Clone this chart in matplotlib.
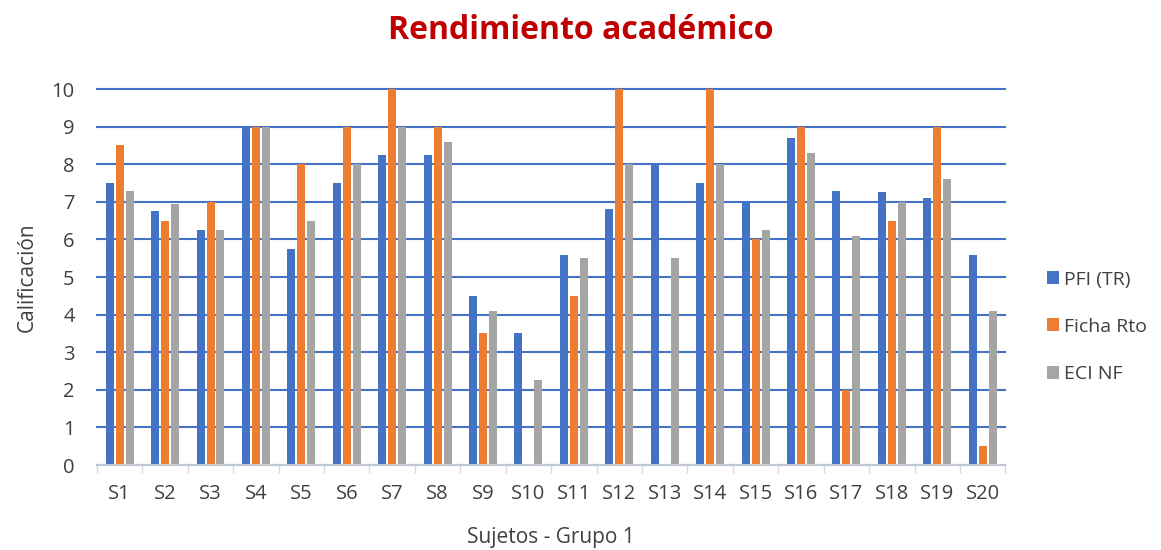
import numpy as np
import matplotlib
matplotlib.use("Agg")
import matplotlib.pyplot as plt

plt.rcParams['font.family'] = ['Open Sans', 'DejaVu Sans']

# data
subjects = ["S%d" % i for i in range(1, 21)]
pfi_tr = [7.5, 6.75, 6.25, 9, 5.75, 7.5, 8.25, 8.25, 4.5, 3.5,
          5.6, 6.8, 8, 7.5, 7, 8.7, 7.3, 7.25, 7.1, 5.6]
ficha_rto = [8.5, 6.5, 7, 9, 8, 9, 10, 9, 3.5, 0,
             4.5, 10, 0, 10, 6, 9, 2, 6.5, 9, 0.5]
eci_nf = [7.3, 6.95, 6.25, 9, 6.5, 8, 9, 8.6, 4.1, 2.25,
          5.5, 8, 5.5, 8, 6.25, 8.3, 6.1, 7, 7.6, 4.1]

series = [("PFI (TR)", pfi_tr, "#4472C4"),
          ("Ficha Rto", ficha_rto, "#ED7D31"),
          ("ECI NF", eci_nf, "#A5A5A5")]

fig = plt.figure(figsize=(11.61, 5.5), dpi=100)
ax = fig.add_axes([0.0835, 0.1545, 0.7825, 0.6835])

x = np.arange(len(subjects))
w = 0.176
step = 0.22
for k, (name, vals, col) in enumerate(series):
    ax.bar(x + (k - 1) * step, vals, width=w, color=col, label=name, zorder=3)

ax.set_xlim(-0.5, len(subjects) - 0.5)
ax.set_ylim(0, 10)
ax.set_yticks(range(0, 11))
ax.yaxis.grid(True, color="#4472C4", linewidth=1.5, zorder=1)
for gl in ax.get_ygridlines():
    gl.set_clip_on(False)
ax.set_axisbelow(True)

ax.set_xticks(x)
ax.set_xticklabels(subjects)
ax.set_xticks(np.arange(-0.5, len(subjects)), minor=True)
ax.tick_params(axis="x", which="major", length=0, pad=14, labelsize=14.5, labelcolor="#404040")
ax.tick_params(axis="x", which="minor", length=6, color="#D9D9D9", width=1)
ax.tick_params(axis="y", length=0, pad=16, labelsize=14.5, labelcolor="#404040")

for s in ["top", "right", "left"]:
    ax.spines[s].set_visible(False)
ax.spines["bottom"].set_color("#D9D9D9")
ax.spines["bottom"].set_linewidth(1.2)
ax.spines["bottom"].set_zorder(4)

ax.set_xlabel("Sujetos - Grupo 1", fontsize=15, color="#404040", labelpad=16.5)
ax.set_ylabel("Calificación", fontsize=15, color="#404040", labelpad=10)

fig.text(0.5, 0.944, "Rendimiento académico", ha="center", va="center",
         fontsize=23, fontweight="bold", color="#C00000")

leg = ax.legend(loc="center left", bbox_to_anchor=(1.026, 0.368), frameon=False,
                fontsize=14, handlelength=0.65, handleheight=0.65,
                labelspacing=1.5, handletextpad=0.25)
for t in leg.get_texts():
    t.set_color("#404040")

fig.savefig("out.png", dpi=100)
